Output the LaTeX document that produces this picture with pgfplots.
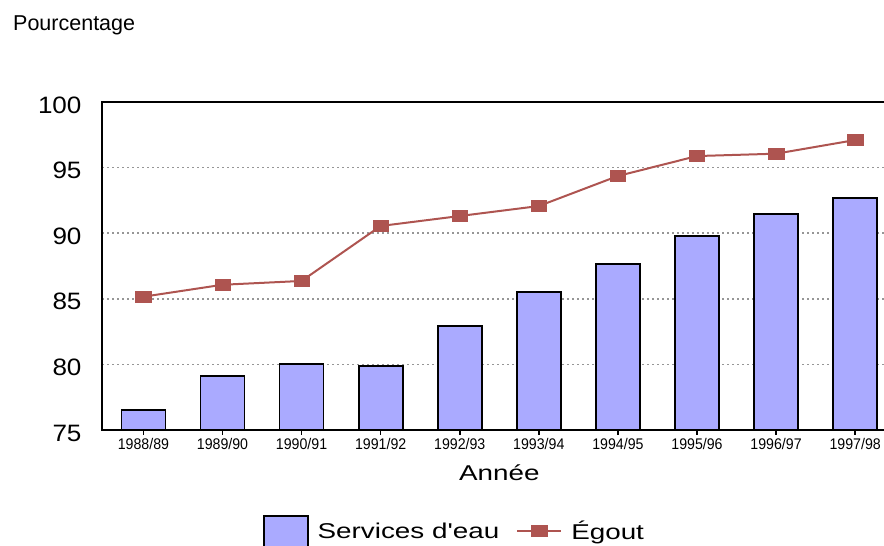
\documentclass[border=0pt]{standalone}
\usepackage{fontspec}
\setmainfont{Liberation Sans}
\newfontfamily\wfont[FakeStretch=1.3]{Liberation Sans}
\newfontfamily\yfont[FakeStretch=1.1]{Liberation Sans}
\newfontfamily\xfont[FakeStretch=0.92]{Liberation Sans}
\usepackage{pgfplots}
\pgfplotsset{compat=1.18}
\definecolor{barfill}{RGB}{170,170,255}
\definecolor{egout}{RGB}{174,84,80}
\definecolor{gridc}{RGB}{150,150,150}
\pgfplotsset{
  barlegend/.style={legend image code/.code={\draw[fill=barfill, draw=black, line width=1.8pt] (0pt,-19pt) rectangle (44pt,15pt);}},
  linelegend/.style={legend image code/.code={\draw[##1, mark repeat=2, mark phase=2] plot coordinates {(0pt,0pt) (22pt,0pt) (44pt,0pt)};}},
}
\begin{document}
\begin{tikzpicture}
\begin{axis}[
  at={(102.3pt,116pt)}, anchor=south west,
  scale only axis, width=794pt, height=328pt,
  xmin=-0.52, xmax=9.52, ymin=75, ymax=100,
  xtick={0,...,9},
  xticklabels={1988/89,1989/90,1990/91,1991/92,1992/93,1993/94,1994/95,1995/96,1996/97,1997/98},
  ytick={75,80,85,90,95,100},
  xtick pos=bottom,
  /pgf/number format/assume math mode=true,
  axis line style={line width=2pt, black},
  tick align=outside,
  major tick length=5pt,
  xtick style={black, line width=1.5pt},
  ytick style={draw=none},
  ymajorgrids,
  major grid style={gridc, line width=1.6pt, dash pattern=on 2pt off 3pt},
  xticklabel style={font=\xfont\fontsize{15.4}{18}\selectfont, inner sep=0pt, anchor=north, yshift=-3pt},
  yticklabel style={font=\yfont\fontsize{23.7}{28}\selectfont, inner sep=0pt, anchor=east, xshift=-15.6pt, yshift=-3pt},
  xlabel={Ann\'ee},
  xlabel style={font=\wfont\fontsize{21.4}{25}\selectfont, at={(axis description cs:0.5,0)}, anchor=base, yshift=-50.5pt, inner sep=0pt},
  legend columns=2,
  legend style={at={(0.202,-0.259)}, anchor=north west, draw=none, fill=none, inner sep=0pt,
    font=\wfont\fontsize{21.4}{25}\selectfont,
    nodes={inner sep=0pt},
    /tikz/every odd column/.append style={column sep=9pt},
    /tikz/every even column/.append style={column sep=17pt}},
]
\addplot[ybar, bar width=44pt, fill=barfill, draw=black, line width=1.8pt, barlegend]
  coordinates {(0,76.5) (1,79.1) (2,80.0) (3,79.9) (4,82.9) (5,85.5) (6,87.65) (7,89.8) (8,91.46) (9,92.68)};
\addlegendentry{Services d'eau}
\addplot[egout, line width=2pt, mark=square*, mark size=5.5pt,
  mark options={xscale=1.4, fill=egout, draw=egout, line width=0.5pt}, linelegend]
  coordinates {(0,85.16) (1,86.07) (2,86.36) (3,90.55) (4,91.31) (5,92.07) (6,94.36) (7,95.88) (8,96.06) (9,97.1)};
\addlegendentry{\'Egout}
\end{axis}
\node[anchor=base west, font=\fontsize{21.5}{25}\selectfont, inner sep=0pt] at (13pt,515.3pt) {Pourcentage};
\pgfresetboundingbox
\path[use as bounding box] (0pt,0pt) rectangle (884pt,546pt);
\end{tikzpicture}
\end{document}
